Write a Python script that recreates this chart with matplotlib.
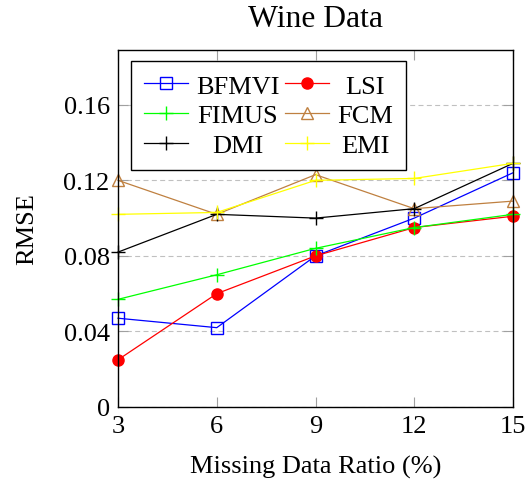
import matplotlib
matplotlib.use('Agg')
import matplotlib.pyplot as plt

plt.rcParams['font.family'] = ['Liberation Serif', 'DejaVu Serif']
plt.rcParams['font.size'] = 19

ratios = [3, 6, 9, 12, 15]
bfmvi = [0.047, 0.042, 0.080, 0.100, 0.124]
lsi = [0.025, 0.060, 0.080, 0.095, 0.101]
fimus = [0.057, 0.070, 0.084, 0.095, 0.102]
fcm = [0.120, 0.102, 0.123, 0.105, 0.109]
dmi = [0.082, 0.102, 0.100, 0.105, 0.129]
emi = [0.102, 0.103, 0.120, 0.121, 0.129]

yticks = [0, 0.04, 0.08, 0.12, 0.16]
ytick_labels = ['0', '0.04', '0.08', '0.12', '0.16']

fig = plt.figure(figsize=(5.29, 4.85), dpi=100)
ax = fig.add_axes([118 / 529, 77 / 485, 395 / 529, 357 / 485])

lw = 0.9
ms = 8
h_bfmvi, = ax.plot(ratios, bfmvi, color='blue', lw=lw, marker='s', ms=ms,
                   mfc='none', mec='blue', label='BFMVI', clip_on=False)
h_lsi, = ax.plot(ratios, lsi, color='red', lw=lw, marker='o', ms=ms,
                 mfc='red', mec='red', label='LSI', clip_on=False)
h_fimus, = ax.plot(ratios, fimus, color='#00ff00', lw=lw, marker='+', ms=ms + 2,
                   mew=1, label='FIMUS', clip_on=False)
h_fcm, = ax.plot(ratios, fcm, color='#bf8040', lw=lw, marker='^', ms=ms,
                 mfc='none', mec='#bf8040', label='FCM', clip_on=False)
h_dmi, = ax.plot(ratios, dmi, color='black', lw=lw, marker='+', ms=ms + 2,
                 mew=1, label='DMI', clip_on=False)
h_emi, = ax.plot(ratios, emi, color='#ffff00', lw=lw, marker='+', ms=ms + 2,
                 mew=1, label='EMI', clip_on=False)

ax.set_xlim(3, 15)
ax.set_ylim(0, 0.189)
ax.set_xticks(ratios)
ax.set_yticks(yticks)
ax.set_yticklabels(ytick_labels)
ax.tick_params(direction='in', top=True, right=True, length=7,
               color='#a0a0a0', width=0.8, pad=6)
ax.yaxis.grid(True, color='#c0c0c0', linestyle=(0, (4.5, 3)), lw=0.8)
ax.set_axisbelow(True)
for s in ax.spines.values():
    s.set_linewidth(1.0)

ax.set_title('Wine Data', pad=17)
ax.set_xlabel('Missing Data Ratio (%)', labelpad=13)
ax.set_ylabel('RMSE', labelpad=18)

# pgfplots order is row by row, matplotlib fills columns
handles = [h_bfmvi, h_fimus, h_dmi, h_lsi, h_fcm, h_emi]
leg = ax.legend(handles=handles, ncol=2, loc='upper left',
                bbox_to_anchor=(0.033, 0.969), fancybox=False,
                edgecolor='black', framealpha=1, handlelength=1.67,
                columnspacing=0.2, handletextpad=0.3, labelspacing=0.23,
                borderpad=0.5, borderaxespad=0)
leg.get_frame().set_linewidth(1.0)

# center the legend texts inside each column
fig.canvas.draw()
renderer = fig.canvas.get_renderer()
texts = leg.get_texts()
for col in (texts[0:3], texts[3:6]):
    widths = [t.get_window_extent(renderer).width for t in col]
    for t, w in zip(col, widths):
        t.set_x((max(widths) - w) / 2)

plt.savefig('out.png', dpi=100)
